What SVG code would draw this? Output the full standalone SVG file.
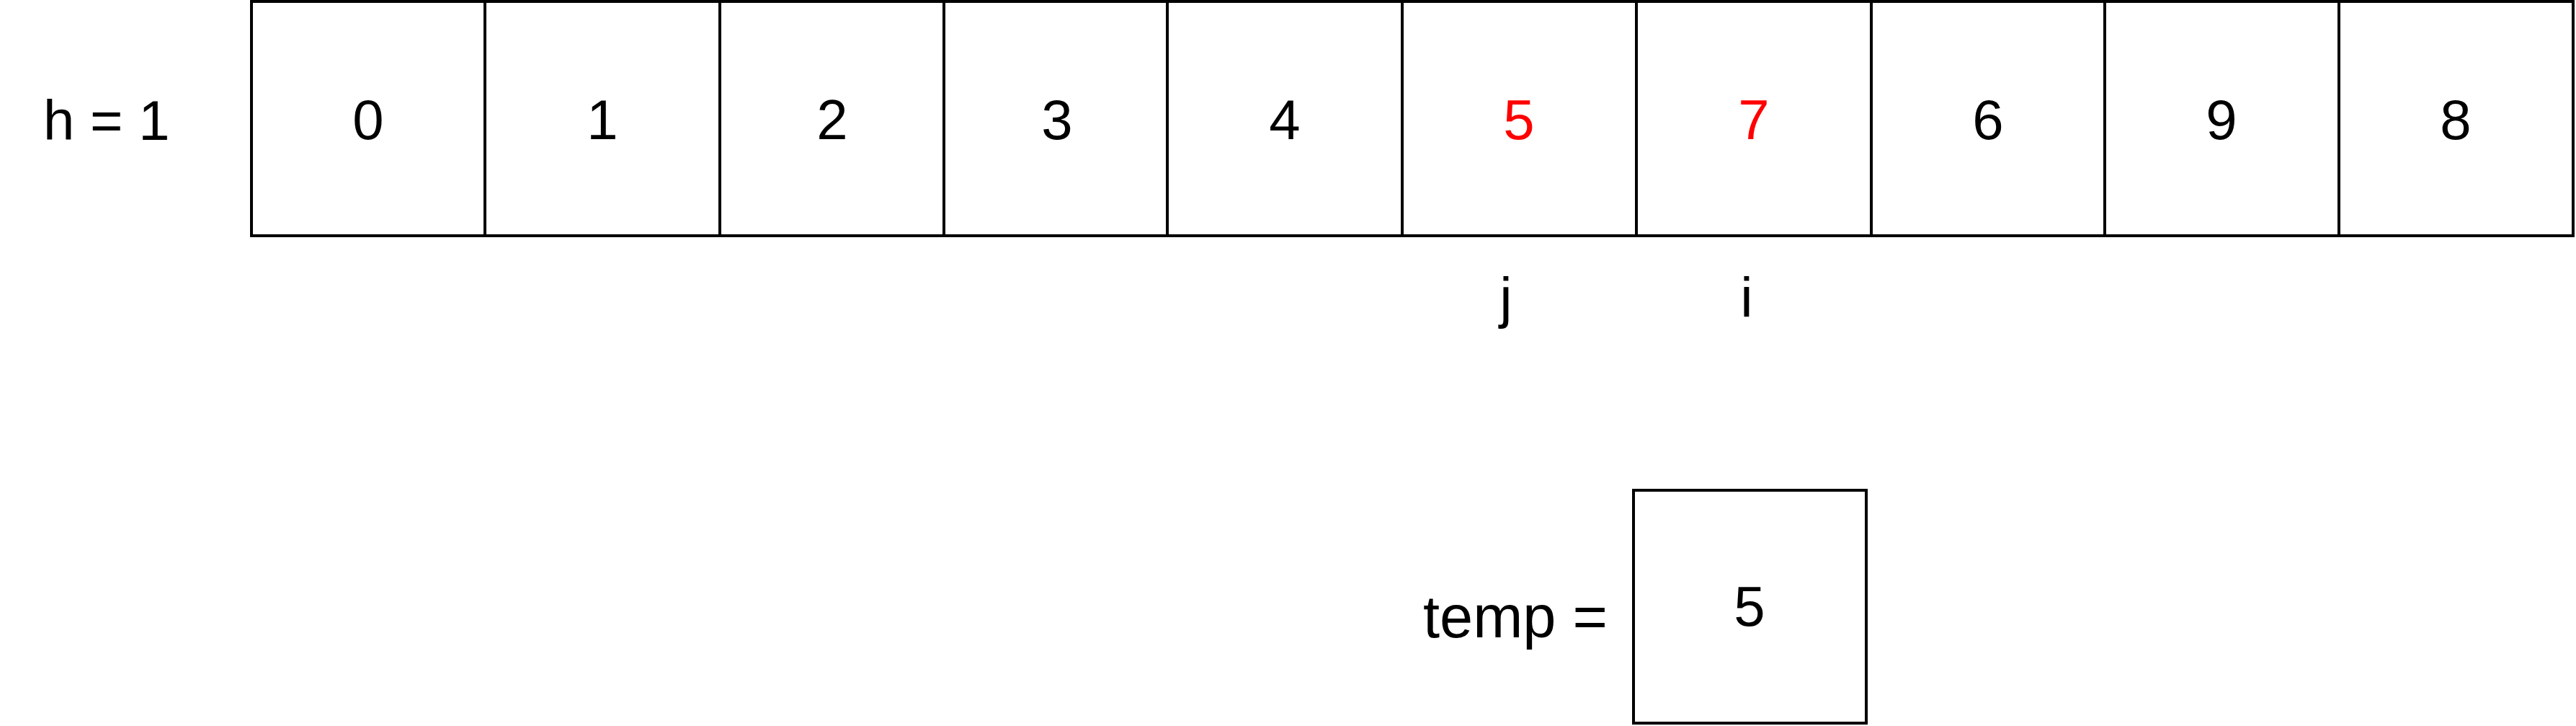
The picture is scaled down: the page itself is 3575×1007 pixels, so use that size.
<svg xmlns="http://www.w3.org/2000/svg" width="3575" height="1007" viewBox="0 0 3575 1007">
<style>
.cell{fill:#fff;stroke:#000;stroke-width:4}
.t{font-family:"Liberation Sans",Arial,sans-serif;font-size:78px;fill:#000}
.c{text-anchor:middle}
.red{fill:#FF0000}
</style>
<rect width="3575" height="1007" fill="#fff"/>
<g id="label-h"><text class="t" x="60" y="194">h = 1</text></g>
<g id="array">
<g id="cell0"><rect class="cell" x="349" y="2" width="324" height="325"/><text class="t c" x="511" y="193">0</text></g>
<g id="cell1"><rect class="cell" x="673" y="2" width="326" height="325"/><text class="t c" x="836" y="193">1</text></g>
<g id="cell2"><rect class="cell" x="999" y="2" width="311" height="325"/><text class="t c" x="1155" y="193">2</text></g>
<g id="cell3"><rect class="cell" x="1310" y="2" width="310" height="325"/><text class="t c" x="1467" y="193">3</text></g>
<g id="cell4"><rect class="cell" x="1620" y="2" width="326" height="325"/><text class="t c" x="1783" y="193">4</text></g>
<g id="cell5"><rect class="cell" x="1946" y="2" width="325" height="325"/><text class="t c red" x="2108" y="193">5</text></g>
<g id="cell6"><rect class="cell" x="2271" y="2" width="326" height="325"/><text class="t c red" x="2434" y="193">7</text></g>
<g id="cell7"><rect class="cell" x="2597" y="2" width="324" height="325"/><text class="t c" x="2759" y="193">6</text></g>
<g id="cell8"><rect class="cell" x="2921" y="2" width="325" height="325"/><text class="t c" x="3083" y="193">9</text></g>
<g id="cell9"><rect class="cell" x="3246" y="2" width="325" height="325"/><text class="t c" x="3408" y="193">8</text></g>
</g>
<g id="label-j"><text class="t c" x="2090" y="440">j</text></g>
<g id="label-i"><text class="t c" x="2424" y="440">i</text></g>
<g id="label-temp"><text class="t" x="1975" y="884" style="font-size:83px">temp =</text></g>
<g id="temp-box"><rect class="cell" x="2267" y="680" width="323" height="323"/><text class="t c" x="2428" y="868">5</text></g>
<g id="connectors"></g>
</svg>
